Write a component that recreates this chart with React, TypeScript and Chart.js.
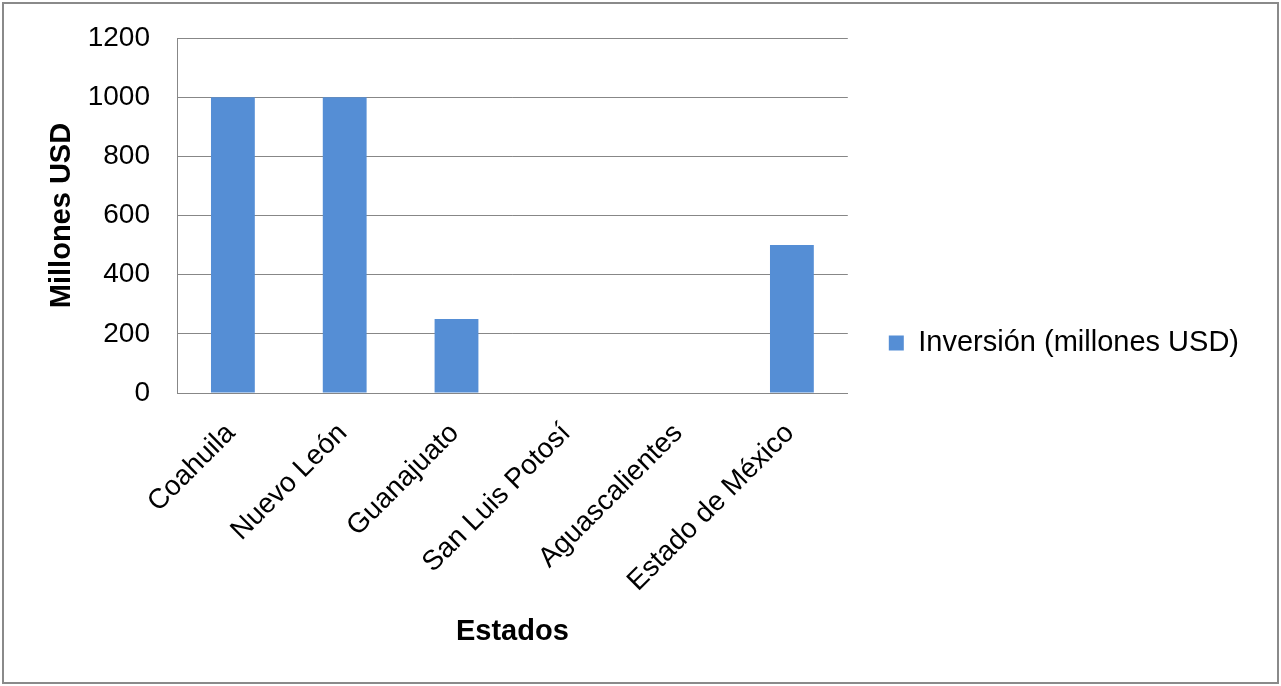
import React, { useEffect, useRef } from 'react';
import { Chart, registerables } from 'chart.js';

Chart.register(...registerables);

const estados = [
  'Coahuila',
  'Nuevo León',
  'Guanajuato',
  'San Luis Potosí',
  'Aguascalientes',
  'Estado de México',
];
const inversion = [1000, 1000, 250, 0, 0, 500];
const serieLabel = 'Inversión (millones USD)';
const yTitle = 'Millones USD';
const xTitle = 'Estados';
const yMin = 0;
const yMax = 1200;
const yStep = 200;

const fontFamily = '"Liberation Sans", Arial, sans-serif';
const gridColor = '#878787';
const barColor = '#558ed5';

const App: React.FC = () => {
  const chartRef = useRef<HTMLCanvasElement | null>(null);

  useEffect(() => {
    let chart: Chart<'bar'> | null = null;

    if (chartRef.current) {
      chart = new Chart(chartRef.current, {
        type: 'bar',
        data: {
          labels: estados,
          datasets: [
            {
              label: serieLabel,
              data: inversion,
              backgroundColor: barColor,
              borderWidth: 0,
              categoryPercentage: 0.4,
              barPercentage: 0.98,
            },
          ],
        },
        options: {
          animation: false,
          responsive: true,
          maintainAspectRatio: false,
          layout: { padding: { top: 0, left: 0, bottom: 0, right: 32 } },
          plugins: {
            tooltip: { enabled: false },
            // empty title only reserves the space above the plot
            title: {
              display: true,
              text: '',
              font: { size: 10, lineHeight: 1 },
              padding: { top: 28, bottom: 0 },
            },
            legend: {
              position: 'right',
              align: 'center',
              maxWidth: 1000,
              labels: {
                boxWidth: 15,
                boxHeight: 15,
                padding: 41,
                color: '#000',
                font: { family: fontFamily, size: 29 },
              },
            },
          },
          scales: {
            x: {
              grid: { display: false, drawTicks: false },
              border: { display: true, color: gridColor, width: 1 },
              ticks: {
                color: '#000',
                font: { family: fontFamily, size: 28 },
                minRotation: 45,
                maxRotation: 45,
                autoSkip: false,
                padding: 24,
                labelOffset: -2,
              },
              title: {
                display: true,
                text: xTitle,
                color: '#000',
                font: { family: fontFamily, size: 29, weight: 'bold' },
                padding: { top: 0, bottom: 36.6 },
              },
              afterFit: (scale) => {
                scale.height = 293;
              },
            },
            y: {
              min: yMin,
              max: yMax,
              ticks: {
                stepSize: yStep,
                padding: 0,
                color: '#000',
                font: { family: fontFamily, size: 28 },
                callback: (value) => String(value),
              },
              // invisible tick marks give the gap between labels and axis
              grid: {
                color: gridColor,
                lineWidth: 1,
                drawTicks: true,
                tickLength: 27,
                tickColor: 'rgba(0,0,0,0)',
              },
              border: { display: true, color: gridColor, width: 1 },
              title: {
                display: true,
                text: yTitle,
                color: '#000',
                font: { family: fontFamily, size: 29, weight: 'bold' },
                padding: { top: 44.6, bottom: 0 },
              },
              afterFit: (scale) => {
                scale.width = 177;
              },
            },
          },
        },
      });
    }

    return () => {
      if (chart) {
        chart.destroy();
      }
    };
  }, []);

  return (
    <div style={{ position: 'fixed', left: 0, top: 0, width: 1281, height: 686, background: '#fff' }}>
      <div
        style={{
          position: 'absolute',
          left: 2,
          top: 2,
          width: 1277,
          height: 682,
          border: '2px solid #8a8a8a',
          boxSizing: 'border-box',
        }}
      />
      <canvas ref={chartRef} style={{ position: 'absolute', left: 0, top: 0 }} />
    </div>
  );
};

export default App;
